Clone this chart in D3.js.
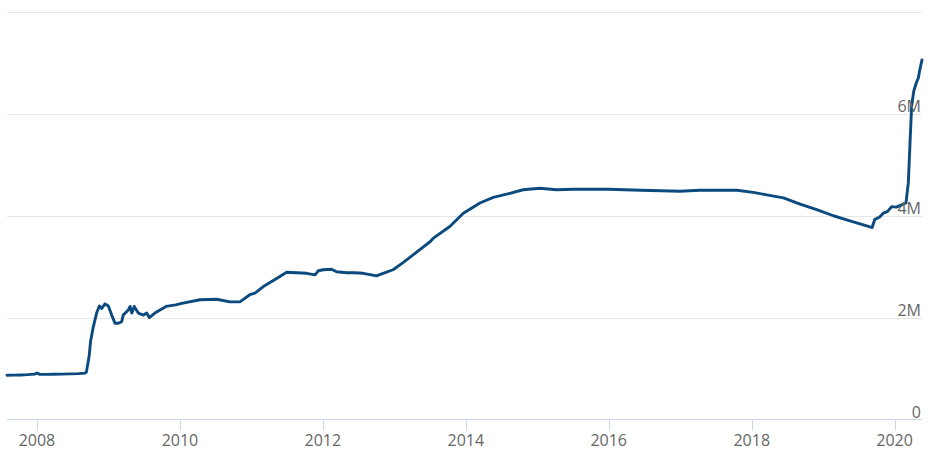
<!DOCTYPE html>
<html>
<head>
<meta charset="utf-8">
<script src="https://cdn.jsdelivr.net/npm/d3@7"></script>
<style>
  html, body { margin: 0; padding: 0; background: #fff; }
  svg { display: block; }
  text { font-family: "Open Sans", "DejaVu Sans", sans-serif; }
</style>
</head>
<body>
<svg id="chart" width="934" height="455"></svg>
<script>
// Total assets, in "M" units as shown on the axis
const dates = [
  "2007-08-01","2007-09-05","2007-10-10","2007-11-14","2007-12-19","2008-01-02","2008-01-16",
  "2008-02-20","2008-03-26","2008-05-07","2008-06-18","2008-07-30","2008-09-03","2008-09-10",
  "2008-09-24","2008-10-01","2008-10-15","2008-11-01","2008-11-15","2008-11-27","2008-12-14",
  "2008-12-31","2009-01-17","2009-02-03","2009-02-20","2009-03-09","2009-03-17","2009-04-12",
  "2009-04-21","2009-04-30","2009-05-12","2009-06-02","2009-06-28","2009-07-15","2009-07-28",
  "2009-08-26","2009-09-21","2009-10-22","2009-12-10","2010-01-10","2010-04-13","2010-07-08",
  "2010-09-13","2010-11-03","2010-12-24","2011-01-19","2011-03-03","2011-05-10","2011-06-30",
  "2011-08-20","2011-10-10","2011-11-22","2011-12-09","2012-01-03","2012-02-15","2012-03-11",
  "2012-05-02","2012-06-13","2012-07-25","2012-09-06","2012-10-01","2012-11-04","2012-12-25",
  "2013-02-14","2013-04-06","2013-05-19","2013-07-02","2013-07-19","2013-10-11","2013-12-19",
  "2014-03-14","2014-05-21","2014-08-14","2014-10-21","2015-01-14","2015-04-10","2015-07-04",
  "2015-10-14","2015-12-28","2016-06-15","2016-12-30","2017-04-11","2017-07-22","2017-10-16",
  "2018-01-09","2018-03-18","2018-06-12","2018-09-05","2018-11-29","2019-02-22","2019-05-01",
  "2019-07-08","2019-08-28","2019-09-08","2019-09-22","2019-10-15","2019-11-04","2019-11-25",
  "2019-12-17","2020-01-10","2020-01-28","2020-02-28","2020-03-11","2020-03-19","2020-03-28",
  "2020-04-08","2020-04-22","2020-05-01","2020-05-08","2020-05-20"
];
const values = [
  0.87,0.872,0.875,0.88,0.89,0.91,0.885,
  0.885,0.888,0.89,0.895,0.90,0.91,0.935,
  1.25,1.53,1.82,2.09,2.23,2.18,2.27,
  2.23,2.05,1.89,1.89,1.92,2.05,2.15,
  2.22,2.09,2.22,2.09,2.05,2.09,2.00,
  2.09,2.15,2.22,2.25,2.28,2.35,2.36,
  2.31,2.31,2.45,2.48,2.61,2.77,2.89,
  2.88,2.87,2.84,2.92,2.94,2.95,2.90,
  2.88,2.88,2.87,2.84,2.82,2.87,2.94,
  3.08,3.23,3.36,3.49,3.56,3.79,4.05,
  4.25,4.36,4.44,4.51,4.54,4.51,4.52,
  4.52,4.52,4.50,4.48,4.50,4.50,4.50,
  4.46,4.41,4.35,4.23,4.12,4.00,3.92,
  3.84,3.78,3.77,3.93,3.97,4.05,4.08,
  4.18,4.17,4.20,4.25,4.64,5.36,6.15,
  6.45,6.62,6.70,6.85,7.06
];
const yTicks = [0, 2, 4, 6, 8];
const yLabelTicks = [0, 2, 4, 6];
const xTickYears = [2008, 2010, 2012, 2014, 2016, 2018, 2020];

const parse = d3.timeParse("%Y-%m-%d");
const data = dates.map((d, i) => ({ date: parse(d), value: values[i] }));

const svg = d3.select("#chart");
const plotLeft = 7, plotRight = 922, plotTop = 12, plotBottom = 419.5;

const x = d3.scaleTime()
  .domain(d3.extent(data, d => d.date))
  .range([plotLeft, plotRight]);
const y = d3.scaleLinear().domain([0, 8]).range([plotBottom, plotTop]);

// gridlines
svg.append("g").selectAll("line")
  .data(yTicks.filter(t => t > 0))
  .join("line")
  .attr("x1", plotLeft).attr("x2", plotRight)
  .attr("y1", d => Math.round(y(d)) + 0.5).attr("y2", d => Math.round(y(d)) + 0.5)
  .attr("stroke", "#e6e6e6").attr("stroke-width", 1);

// x axis
const xAxis = svg.append("g");
xAxis.append("line")
  .attr("x1", plotLeft).attr("x2", plotRight)
  .attr("y1", plotBottom).attr("y2", plotBottom)
  .attr("stroke", "#ccd6eb").attr("stroke-width", 1);
const xTicks = xTickYears.map(yr => new Date(yr, 0, 1));
xAxis.selectAll("line.tick")
  .data(xTicks)
  .join("line")
  .attr("class", "tick")
  .attr("x1", d => Math.round(x(d)) + 0.5).attr("x2", d => Math.round(x(d)) + 0.5)
  .attr("y1", plotBottom).attr("y2", plotBottom + 11)
  .attr("stroke", "#ccd6eb").attr("stroke-width", 1);
xAxis.selectAll("text")
  .data(xTicks)
  .join("text")
  .attr("x", d => x(d))
  .attr("y", 446)
  .attr("text-anchor", "middle")
  .attr("fill", "#666666")
  .attr("font-size", "16px")
  .text(d => d3.timeFormat("%Y")(d));

// line
const line = d3.line()
  .x(d => x(d.date))
  .y(d => y(d.value))
  .curve(d3.curveLinear);
svg.append("path")
  .datum(data)
  .attr("d", line)
  .attr("fill", "none")
  .attr("stroke", "#0b4a7e")
  .attr("stroke-width", 2.9)
  .attr("stroke-linejoin", "round")
  .attr("stroke-linecap", "round");

// y labels (right side, above gridlines)
svg.append("g").selectAll("text")
  .data(yLabelTicks)
  .join("text")
  .attr("x", 921)
  .attr("y", d => y(d) - 2)
  .attr("text-anchor", "end")
  .attr("fill", "#666666")
  .attr("font-size", "16px")
  .text(d => d === 0 ? "0" : d + "M");
</script>
</body>
</html>
